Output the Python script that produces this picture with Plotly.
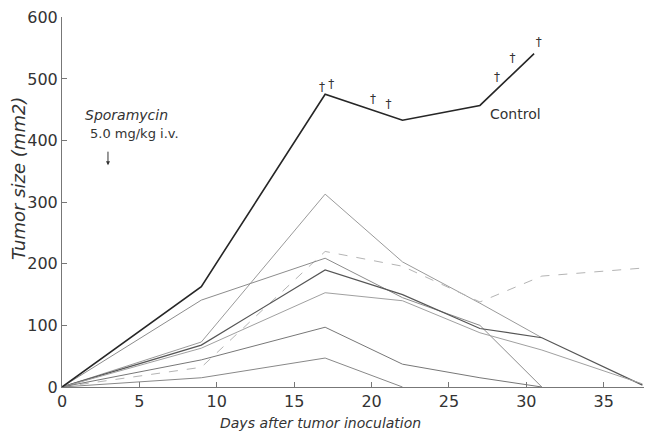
import plotly.graph_objects as go

# ---- data ----
control_days = [0, 9, 17, 22, 27, 30.5]
control_size = [0, 163, 475, 433, 457, 541]

m1_days = [0, 9, 17, 22, 27, 31]
m1_size = [0, 73, 313, 203, 136, 80]

m2_days = [0, 9, 17, 22, 27, 31, 37.5]
m2_size = [0, 32, 220, 196, 138, 180, 193]

m3_days = [0, 9, 17, 22, 27, 31]
m3_size = [0, 141, 209, 145, 100, 0]

m4_days = [0, 9, 17, 22, 27, 31, 37.5]
m4_size = [0, 68, 190, 150, 95, 80, 3]

m5_days = [0, 9, 17, 22, 27, 31, 37.5]
m5_size = [0, 63, 153, 140, 88, 60, 5]

m6_days = [0, 9, 17, 22, 27, 31]
m6_size = [0, 44, 97, 37, 15, 0]

m7_days = [0, 9, 17, 22]
m7_size = [0, 15, 47, 0]

dagger_days = [16.8, 17.4, 20.1, 21.1, 28.1, 29.1, 30.8]
dagger_size = [485, 490, 465, 457, 501, 533, 559]

x_ticks = [0, 5, 10, 15, 20, 25, 30, 35]
y_ticks = [0, 100, 200, 300, 400, 500, 600]

FONT = "DejaVu Sans"
INK = "#333333"

fig = go.Figure()

treated = [
    (m1_days, m1_size, "#9a9a9a", 1.0, "solid"),
    (m2_days, m2_size, "#b4b4b4", 1.0, "dash"),
    (m3_days, m3_size, "#8c8c8c", 1.0, "solid"),
    (m4_days, m4_size, "#555555", 1.2, "solid"),
    (m5_days, m5_size, "#a0a0a0", 1.0, "solid"),
    (m6_days, m6_size, "#777777", 1.0, "solid"),
    (m7_days, m7_size, "#888888", 1.0, "solid"),
]
for d, s, c, w, dash in treated:
    fig.add_trace(go.Scatter(x=d, y=s, mode="lines",
                             line=dict(color=c, width=w, dash=dash),
                             showlegend=False, hoverinfo="skip"))

fig.add_trace(go.Scatter(x=control_days, y=control_size, mode="lines",
                         line=dict(color="#262626", width=1.6),
                         showlegend=False, hoverinfo="skip"))

fig.add_trace(go.Scatter(x=dagger_days, y=dagger_size, mode="text",
                         text=["†"] * len(dagger_days),
                         textfont=dict(family=FONT, size=12, color="#333333"),
                         showlegend=False, hoverinfo="skip"))

fig.add_annotation(x=2.97, y=360, xref="x", yref="y", text="", showarrow=True,
                   ax=0, ay=-15, arrowhead=2, arrowsize=0.8, arrowwidth=1,
                   arrowcolor=INK)
fig.add_annotation(x=1.35, y=441, xref="x", yref="y", text="<i>Sporamycin</i>",
                   showarrow=False, xanchor="left",
                   font=dict(family=FONT, size=14, color=INK))
fig.add_annotation(x=1.68, y=412, xref="x", yref="y", text="5.0 mg/kg i.v.",
                   showarrow=False, xanchor="left",
                   font=dict(family=FONT, size=13, color=INK))
fig.add_annotation(x=27.5, y=443, xref="x", yref="y", text="Control",
                   showarrow=False, xanchor="left",
                   font=dict(family=FONT, size=14, color=INK))

# axis titles placed as annotations
fig.add_annotation(x=-0.0756, y=0.562, xref="paper", yref="paper",
                   text="<i>Tumor size (mm2)</i>", textangle=-90,
                   showarrow=False, xanchor="center", yanchor="middle",
                   font=dict(family=FONT, size=18, color=INK))
fig.add_annotation(x=0.445, y=-0.097, xref="paper", yref="paper",
                   text="<i>Days after tumor inoculation</i>",
                   showarrow=False, xanchor="center", yanchor="middle",
                   font=dict(family=FONT, size=14, color=INK))

fig.update_layout(
    width=647, height=431,
    margin=dict(l=62, r=3, t=17, b=44),
    paper_bgcolor="white", plot_bgcolor="white",
    font=dict(family=FONT, color=INK),
)
fig.update_xaxes(range=[0, 37.6], tickvals=x_ticks, ticks="inside", ticklen=5,
                 tickcolor="#777", showline=True, linecolor="#777", linewidth=1,
                 showgrid=False, zeroline=False,
                 tickfont=dict(family=FONT, size=16, color=INK))
fig.update_yaxes(range=[0, 600.5], tickvals=y_ticks, ticks="inside", ticklen=5,
                 tickcolor="#777", showline=True, linecolor="#777", linewidth=1,
                 showgrid=False, zeroline=False,
                 tickfont=dict(family=FONT, size=16, color=INK))

fig.write_html("out.html",
               config={"displayModeBar": False},
               post_script="document.body.style.margin='0';document.body.style.overflow='hidden';")
